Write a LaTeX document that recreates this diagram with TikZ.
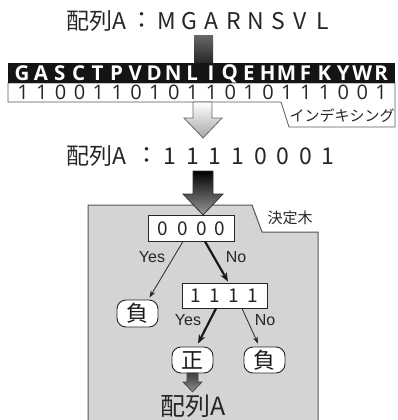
\documentclass[tikz,border=0pt]{standalone}
\usepackage{fontspec}
\setmainfont{Noto Sans CJK JP}
\newfontfamily\bandfont{Open Sans}
\newfontfamily\yesfont{Liberation Sans}
\usetikzlibrary{arrows.meta,calc}
\definecolor{panelgray}{HTML}{D4D4D6}
\definecolor{edgegray}{HTML}{555555}
\begin{document}
\begin{tikzpicture}[x=1pt,y=-1pt,
  title/.style={font=\fontsize{23}{23}\selectfont, inner sep=0pt, text=black!85},
  bandchar/.style={font=\bandfont\bfseries\fontsize{20.5}{20.5}\selectfont, text=white, inner sep=0pt},
  bitchar/.style={font=\bandfont\fontsize{20}{20}\selectfont, text=black!85, inner sep=0pt},
  testbox/.style={draw=black!85, fill=white, line width=0.9pt, inner sep=0pt, text=black!85},
  boxdigit/.style={inner sep=0pt, font=\fontsize{19}{19}\selectfont, text=black!85},
  leaf/.style={draw=black!85, fill=white, line width=0.9pt, rounded corners=9pt, inner sep=0pt,
     minimum width=41pt, minimum height=27pt, font=\fontsize{22}{22}\selectfont, text=black!90},
  thinedge/.style={line width=0.8pt, draw=black!85, -{Stealth[length=7pt,width=5pt]}},
  thickedge/.style={line width=2.2pt, draw=black!90, -{Stealth[length=9pt,width=7pt]}},
  ynlabel/.style={font=\yesfont\fontsize{16}{16}\selectfont, text=black!85, inner sep=0pt},
  smalllabel/.style={font=\fontsize{15}{15}\selectfont, text=black!85, inner sep=0pt}
]
\useasboundingbox (0,0) rectangle (398,420);
\fill[white] (0,0) rectangle (398,420);

% ---- title 1
\node[title, anchor=west] (t1) at (66,21) {配列A};
\node[title] (t1c) at (142,21) {：};
\foreach \c [count=\i] in {M,G,A,R,N,S,V,L}
  \node[title] (t1l\i) at ({167+(\i-1)*22.2},21) {\c};

% ---- stem into band
\shade[top color=black!60, bottom color=black!85] (194,36) rectangle (213,63);

% ---- band with bits and callout
\filldraw[fill=white, draw=black!65, line width=0.8pt]
  (8,83) -- (395,83) -- (395,127) -- (289,127) -- (281,102) -- (8,102) -- cycle;
\fill[black!92] (8,63) rectangle (395,83);
\foreach \c [count=\i] in {G,A,S,C,T,P,V,D,N,L,I,Q,E,H,M,F,K,Y,W,R}
  \node[bandchar] (bc\i) at ({22+(\i-1)*18.9},73.5) {\c};
\foreach \c [count=\i] in {1,1,0,0,1,1,0,1,0,1,1,0,1,0,1,1,1,0,0,1}
  \node[bitchar] (bb\i) at ({23+(\i-1)*18.85},92.5) {\c};
\node[smalllabel] (idx) at (342,116) {インデキシング};

% ---- light arrow
\shadedraw[top color=white, bottom color=black!35, draw=black!60, line width=0.8pt]
  (193,102) -- (212,102) -- (212,118) -- (222,118) -- (203,138) -- (184,118) -- (193,118) -- cycle;

% ---- title 2
\node[title, anchor=west] (t2) at (66,156) {配列A};
\node[title] (t2c) at (147,156) {：};
\foreach \c [count=\i] in {1,1,1,1,0,0,0,1}
  \node[title] (t2l\i) at ({170+(\i-1)*22.6},156) {\c};

% ---- panel
\fill[panelgray] (88,421) -- (88,205) -- (252,205) -- (262,232) -- (318,232) -- (318,421) -- cycle;
\draw[edgegray, line width=1pt] (88,421) -- (88,205) -- (252,205) -- (262,232) -- (318,232) -- (318,421);
\node[smalllabel] (dt) at (290,218) {決定木};

% ---- dark arrow
\shadedraw[top color=black, bottom color=black!40, draw=black!80, line width=0.8pt]
  (193,171) -- (213,171) -- (213,194) -- (223,194) -- (203,215) -- (183,194) -- (193,194) -- cycle;

% ---- tree
\node[testbox, minimum width=86pt, minimum height=26pt] (b0) at (191,228) {};
\foreach \x [count=\i] in {163,182.5,201.5,220}
  \node[boxdigit] (b0d\i) at (\x,228.5) {0};
\node[testbox, minimum width=85pt, minimum height=25pt] (b1) at (224.5,295.5) {};
\foreach \x [count=\i] in {196,215,234,253}
  \node[boxdigit] (b1d\i) at (\x,296) {1};

\node[leaf] (l1) at (137.5,313.5) {負};
\node[leaf, minimum height=26pt] (l2) at (192.5,360) {正};
\node[leaf, minimum height=26pt] (l3) at (264.5,360) {負};

\draw[thinedge] ([xshift=-8pt]b0.south) -- ([xshift=12pt,yshift=2pt]l1.north);
\draw[thickedge] ([xshift=14pt]b0.south) -- ([xshift=3.5pt,yshift=1pt]b1.north);
\draw[thickedge] ([xshift=-8.5pt]b1.south) -- ([xshift=5.5pt,yshift=3pt]l2.north);
\draw[thinedge] ([xshift=17.5pt]b1.south) -- ([xshift=-6.5pt,yshift=3pt]l3.north);

\node[ynlabel] (y1) at (152,257) {Yes};
\node[ynlabel] (n1) at (236,257) {No};
\node[ynlabel] (y2) at (188,320) {Yes};
\node[ynlabel] (n2) at (265,320) {No};

% ---- small arrow
\shadedraw[top color=black!75, bottom color=black!45, draw=black!75, line width=0.6pt]
  (187,373) -- (198,373) -- (198,382) -- (202,382) -- (192.5,392) -- (183,382) -- (187,382) -- cycle;

\node[title, font=\fontsize{25}{25}\selectfont] (t3) at (193,406) {配列A};
\end{tikzpicture}
\end{document}
